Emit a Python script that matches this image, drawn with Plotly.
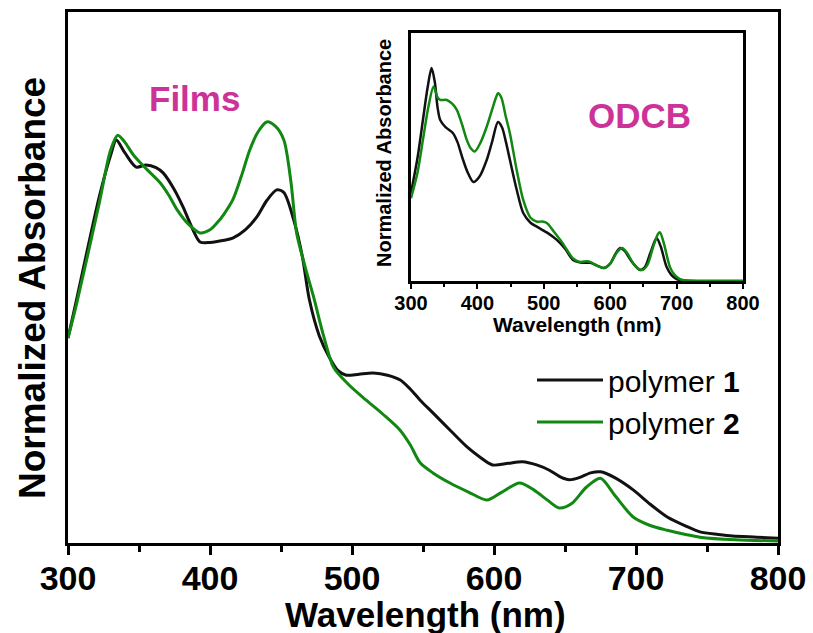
import plotly.graph_objects as go

# ---------------- data ----------------
# Films (main panel)
film_wl_p1 = [300, 306, 322, 330, 334, 340, 348, 355, 362, 367, 375, 381, 388, 393, 400, 410, 416,
              425, 433, 440, 447, 452, 459, 465, 470, 477, 484, 490, 496, 505, 515, 525, 534, 541,
              548, 557, 570, 581, 590, 599, 610, 620, 630, 639, 647, 653, 660, 668, 675, 685, 698,
              710, 722, 735, 745, 758, 768, 785, 800]
film_abs_p1 = [0.386, 0.458, 0.652, 0.73, 0.759, 0.735, 0.708, 0.712, 0.707, 0.697, 0.665, 0.633,
               0.59, 0.567, 0.566, 0.57, 0.574, 0.59, 0.614, 0.645, 0.665, 0.66, 0.608, 0.54,
               0.458, 0.39, 0.35, 0.325, 0.316, 0.318, 0.32, 0.316, 0.307, 0.29, 0.269, 0.245,
               0.21, 0.181, 0.162, 0.147, 0.15, 0.153, 0.147, 0.137, 0.124, 0.119, 0.123, 0.132,
               0.134, 0.123, 0.1, 0.073, 0.049, 0.032, 0.021, 0.016, 0.013, 0.011, 0.009]

film_wl_p2 = [300, 306, 322, 330, 335, 340, 346, 355, 365, 371, 377, 385, 393, 400, 405, 410, 416,
              422, 428, 434, 440, 446, 452, 457, 461, 467, 473, 480, 487, 497, 510, 522, 534, 541,
              548, 557, 569, 582, 595, 605, 618, 628, 638, 646, 655, 665, 675, 685, 698, 710, 722,
              735, 745, 770, 800]
film_abs_p2 = [0.386, 0.45, 0.64, 0.74, 0.768, 0.755, 0.731, 0.705, 0.678, 0.655, 0.627, 0.6,
               0.584, 0.59, 0.603, 0.62, 0.646, 0.69, 0.74, 0.775, 0.793, 0.785, 0.759, 0.68,
               0.584, 0.52, 0.463, 0.39, 0.331, 0.3, 0.269, 0.242, 0.212, 0.185, 0.151, 0.132,
               0.113, 0.096, 0.081, 0.095, 0.113, 0.1, 0.08, 0.066, 0.075, 0.105, 0.122, 0.09,
               0.049, 0.033, 0.024, 0.016, 0.011, 0.006, 0.004]

# ODCB solution (inset)
sol_wl_p1 = [300, 310, 318, 325, 331, 336, 340, 344, 352, 363, 370, 377, 385, 394, 403, 414, 422,
             431, 437, 443, 449, 459, 469, 480, 490, 505, 520, 532, 544, 555, 570, 580, 590, 600,
             608, 615, 622, 632, 640, 645, 652, 660, 667, 670, 676, 685, 692, 700, 710, 750, 800]
sol_abs_p1 = [0.355, 0.5, 0.65, 0.78, 0.859, 0.8, 0.7, 0.649, 0.62, 0.597, 0.56, 0.5, 0.44, 0.399,
              0.42, 0.488, 0.56, 0.641, 0.62, 0.56, 0.488, 0.37, 0.274, 0.235, 0.218, 0.195, 0.165,
              0.13, 0.085, 0.075, 0.073, 0.062, 0.052, 0.07, 0.11, 0.133, 0.12, 0.08, 0.055, 0.044,
              0.055, 0.11, 0.16, 0.173, 0.14, 0.056, 0.025, 0.008, 0.002, 0.0, 0.0]

sol_wl_p2 = [300, 310, 318, 326, 334, 340, 344, 354, 362, 369, 377, 384, 390, 396, 405, 414, 422,
             428, 431, 436, 443, 449, 459, 469, 480, 490, 498, 505, 515, 525, 535, 544, 555, 565,
             570, 580, 590, 600, 610, 618, 625, 635, 642, 648, 656, 665, 672, 675, 681, 690, 697,
             705, 715, 750, 800]
sol_abs_p2 = [0.334, 0.44, 0.57, 0.7, 0.784, 0.74, 0.73, 0.73, 0.715, 0.69, 0.63, 0.569, 0.535,
              0.522, 0.56, 0.622, 0.69, 0.74, 0.757, 0.74, 0.66, 0.595, 0.45, 0.327, 0.255, 0.239,
              0.24, 0.233, 0.2, 0.165, 0.125, 0.091, 0.077, 0.08, 0.077, 0.062, 0.052, 0.07, 0.115,
              0.133, 0.115, 0.07, 0.05, 0.044, 0.065, 0.14, 0.19, 0.196, 0.15, 0.056, 0.025, 0.008,
              0.002, 0.0, 0.0]

x_ticks = [300, 400, 500, 600, 700, 800]
series_names = ["polymer <b>1</b>", "polymer <b>2</b>"]
colors = ["#111111", "#118811"]

FONT = "Liberation Sans, Arial, sans-serif"
MAGENTA = "#cc3399"

W, H = 813, 633

fig = go.Figure()

for wl, ab, name, c in [(film_wl_p1, film_abs_p1, series_names[0], colors[0]),
                        (film_wl_p2, film_abs_p2, series_names[1], colors[1])]:
    fig.add_trace(go.Scatter(x=wl, y=ab, mode="lines", name=name,
                             line=dict(color=c, width=3, shape="spline", smoothing=0.8),
                             xaxis="x", yaxis="y"))

for wl, ab, c in [(sol_wl_p1, sol_abs_p1, colors[0]), (sol_wl_p2, sol_abs_p2, colors[1])]:
    fig.add_trace(go.Scatter(x=wl, y=ab, mode="lines", showlegend=False,
                             line=dict(color=c, width=2.5, shape="spline", smoothing=0.8),
                             xaxis="x2", yaxis="y2"))

main_x = [68 / W, 778 / W]
main_y = [(H - 543) / H, (H - 12) / H]
ins_x = [411 / W, 743 / W]
ins_y = [(H - 281) / H, (H - 33) / H]

fig.update_layout(
    width=W, height=H,
    margin=dict(l=0, r=0, t=0, b=0, autoexpand=False),
    paper_bgcolor="white", plot_bgcolor="white",
    font=dict(family=FONT, color="black"),
    xaxis=dict(domain=main_x, range=[300, 800], tickvals=x_ticks, automargin=False,
               showline=True, linewidth=3, linecolor="black", mirror=True,
               ticks="outside", ticklen=9, tickwidth=3, tickcolor="black",
               minor=dict(dtick=50, tick0=300, ticks="outside", ticklen=6, tickwidth=3, tickcolor="black"),
               tickfont=dict(size=34, family=FONT, weight="bold"), ticklabelstandoff=-6,
               showgrid=False, zeroline=False, anchor="y"),
    yaxis=dict(domain=main_y, range=[0, 1], showticklabels=False, ticks="", automargin=False,
               showline=True, linewidth=3, linecolor="black", mirror=True,
               showgrid=False, zeroline=False, anchor="x"),
    xaxis2=dict(domain=ins_x, range=[300, 800], tickvals=x_ticks, automargin=False,
                showline=True, linewidth=3, linecolor="black", mirror=True,
                ticks="outside", ticklen=5, tickwidth=2, tickcolor="black",
                minor=dict(dtick=50, tick0=300, ticks="outside", ticklen=3, tickwidth=2, tickcolor="black"),
                tickfont=dict(size=20, family=FONT, weight="bold"), ticklabelstandoff=-3,
                showgrid=False, zeroline=False, anchor="y2"),
    yaxis2=dict(domain=ins_y, range=[0, 1], showticklabels=False, ticks="", automargin=False,
                showline=True, linewidth=3, linecolor="black", mirror=True,
                showgrid=False, zeroline=False, anchor="x2"),
    legend=dict(x=532 / W, y=1 - 354 / H, xanchor="left", yanchor="top",
                bgcolor="rgba(0,0,0,0)", font=dict(size=30, family=FONT),
                itemwidth=66, tracegroupgap=0),
    annotations=[
        dict(text="<b>Wavelength (nm)</b>", x=425 / W, y=1 - 614 / H, xref="paper", yref="paper",
             showarrow=False, font=dict(size=35, family=FONT), xanchor="center", yanchor="middle"),
        dict(text="<b>Normalized Absorbance</b>", x=32 / W, y=1 - 288 / H, xref="paper", yref="paper",
             showarrow=False, textangle=-90, font=dict(size=37, family=FONT),
             xanchor="center", yanchor="middle"),
        dict(text="<b>Wavelength (nm)</b>", x=577 / W, y=1 - 324 / H, xref="paper", yref="paper",
             showarrow=False, font=dict(size=21, family=FONT), xanchor="center", yanchor="middle"),
        dict(text="<b>Normalized Absorbance</b>", x=384 / W, y=1 - 153 / H, xref="paper", yref="paper",
             showarrow=False, textangle=-90, font=dict(size=20, family=FONT),
             xanchor="center", yanchor="middle"),
        dict(text="<b>Films</b>", x=194 / W, y=1 - 99 / H, xref="paper", yref="paper",
             showarrow=False, font=dict(size=35, family=FONT, color=MAGENTA),
             xanchor="center", yanchor="middle"),
        dict(text="<b>ODCB</b>", x=639 / W, y=1 - 115 / H, xref="paper", yref="paper",
             showarrow=False, font=dict(size=35, family=FONT, color=MAGENTA),
             xanchor="center", yanchor="middle"),
    ],
)

fig.write_html("out.html")
